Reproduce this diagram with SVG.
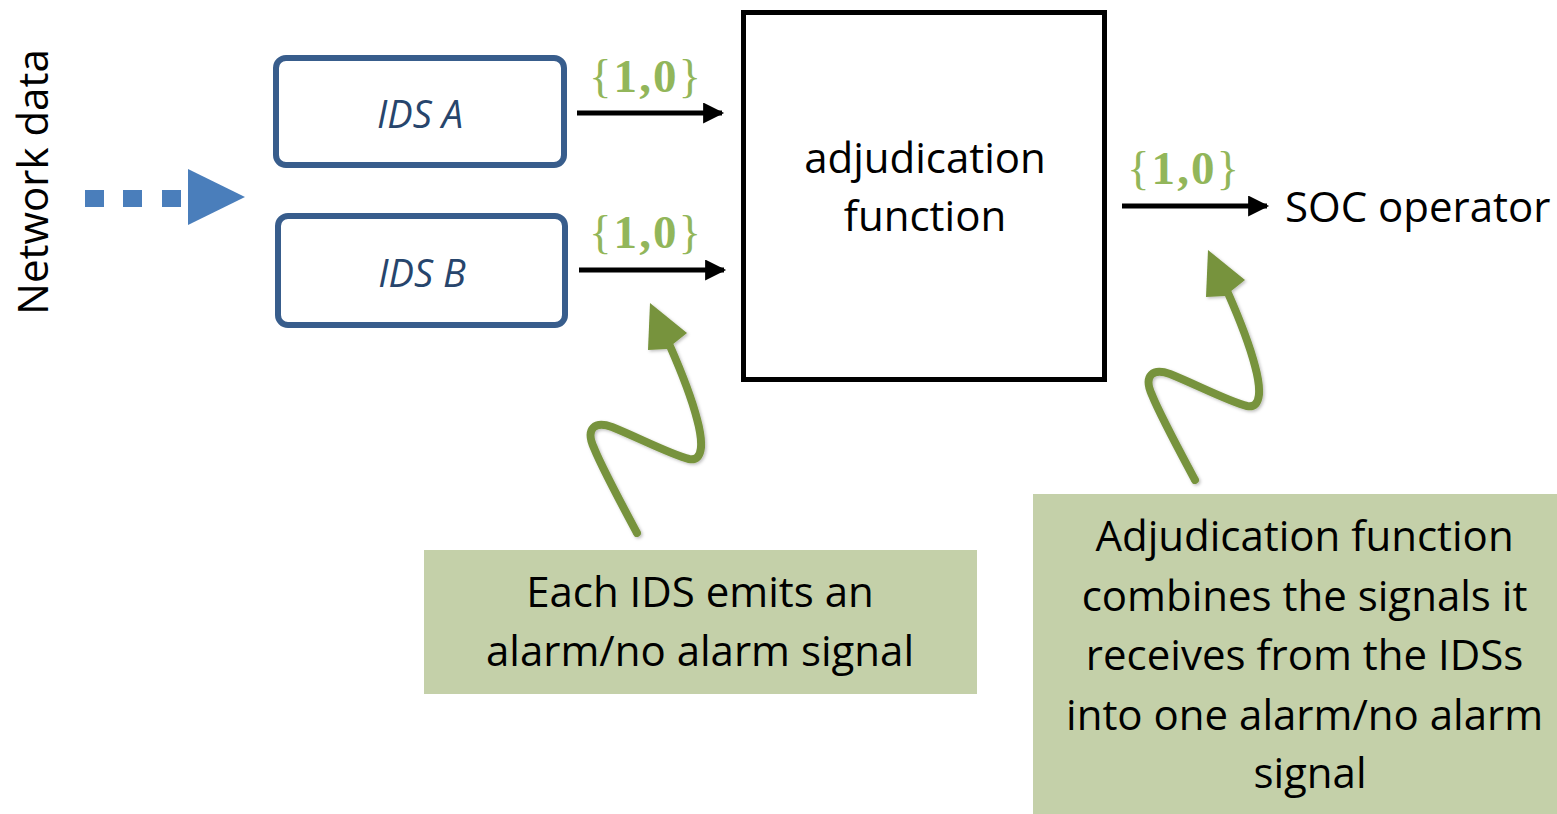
<svg xmlns="http://www.w3.org/2000/svg" width="1557" height="814" viewBox="0 0 1557 814">
  <style>
    .txt { font-family: "Open Sans", "Noto Sans", sans-serif; font-size: 42px; fill: #000; }
    .ids-box { fill: #fff; stroke: #385d8c; stroke-width: 6; }
    .ids-txt { font-family: "Open Sans", "Noto Sans", sans-serif; font-size: 38px; font-style: italic; fill: #27456c; text-anchor: middle; }
    .bits { font-family: "Liberation Serif", serif; font-size: 47px; fill: #92b65a; text-anchor: middle; }
    .bits .d { font-weight: bold; }
    .flow { stroke: #000; stroke-width: 5; fill: none; marker-end: url(#head); }
    .note { fill: #c4d0a9; }
    .squiggle { fill: none; stroke: #77933c; stroke-width: 8; stroke-linecap: round; stroke-linejoin: round; }
    .sq-head { fill: #77933c; }
  </style>
  <defs>
    <marker id="head" viewBox="0 0 10 10" refX="9" refY="5" markerWidth="4.4" markerHeight="4.2" orient="auto" markerUnits="strokeWidth">
      <path d="M0,0 L10,5 L0,10 z" fill="#000"/>
    </marker>
    <filter id="soft" x="-20%" y="-20%" width="140%" height="140%">
      <feDropShadow dx="1.5" dy="1.5" stdDeviation="1.5" flood-color="#000" flood-opacity="0.25"/>
    </filter>
    <!-- wavy callout arrow, drawn relative to its lower end -->
    <g id="callout">
      <path class="squiggle" d="M0,0 C-15,-28 -35,-65 -43,-85 C-52,-105 -42,-112 -25,-106 C0,-96 35,-78 52,-74 C67,-71 66,-92 60,-114 C54,-137 44,-162 33,-187"/>
      <path class="sq-head" d="M13,-230 L50,-200 L30,-184 L11,-183 z"/>
    </g>
  </defs>

  <!-- input -->
  <g id="input">
    <text class="txt" text-anchor="middle" transform="translate(48,182) rotate(-90)">Network data</text>
    <g fill="#4a7ebb">
      <rect x="85" y="190" width="19" height="17"/>
      <rect x="123" y="190" width="19" height="17"/>
      <rect x="162" y="190" width="19" height="17"/>
      <path d="M188,169 L245,197 L188,225 z"/>
    </g>
  </g>

  <g id="ids-a">
    <rect class="ids-box" x="276" y="58" width="288" height="107" rx="10"/>
    <text class="ids-txt" x="420" y="128">IDS A</text>
  </g>

  <g id="ids-b">
    <rect class="ids-box" x="278" y="216" width="287" height="109" rx="10"/>
    <text class="ids-txt" x="422" y="287">IDS B</text>
  </g>

  <g id="adjudication">
    <rect x="743.5" y="12.5" width="361" height="367" fill="#fff" stroke="#000" stroke-width="5"/>
    <text class="txt" x="925" y="173" text-anchor="middle">adjudication</text>
    <text class="txt" x="925" y="231" text-anchor="middle">function</text>
  </g>

  <g id="soc">
    <text class="txt" x="1285" y="222">SOC operator</text>
  </g>

  <g id="connectors">
    <path class="flow" d="M577,113 H722"/>
    <path class="flow" d="M579,270 H724"/>
    <path class="flow" d="M1122,206 H1267"/>
  </g>

  <g id="signal-labels">
    <text class="bits" x="645" y="92" textLength="112" lengthAdjust="spacing">{<tspan class="d">1,0</tspan>}</text>
    <text class="bits" x="645" y="248" textLength="112" lengthAdjust="spacing">{<tspan class="d">1,0</tspan>}</text>
    <text class="bits" x="1183" y="184" textLength="112" lengthAdjust="spacing">{<tspan class="d">1,0</tspan>}</text>
  </g>

  <g id="callout-arrows" filter="url(#soft)">
    <use href="#callout" transform="translate(637,533)"/>
    <use href="#callout" transform="translate(1195,480)"/>
  </g>

  <g id="note-ids">
    <rect class="note" x="424" y="550" width="553" height="144"/>
    <text class="txt" x="700" y="607" text-anchor="middle">Each IDS emits an</text>
    <text class="txt" x="700" y="666" text-anchor="middle">alarm/no alarm signal</text>
  </g>

  <g id="note-adjudication">
    <rect class="note" x="1033" y="494" width="524" height="320"/>
    <text class="txt" text-anchor="middle">
      <tspan x="1310" y="551">Adjudication function</tspan>
      <tspan x="1310" y="611">combines the signals it</tspan>
      <tspan x="1310" y="670">receives from the IDSs</tspan>
      <tspan x="1310" y="730">into one alarm/no alarm</tspan>
      <tspan x="1310" y="788">signal</tspan>
    </text>
  </g>
</svg>
